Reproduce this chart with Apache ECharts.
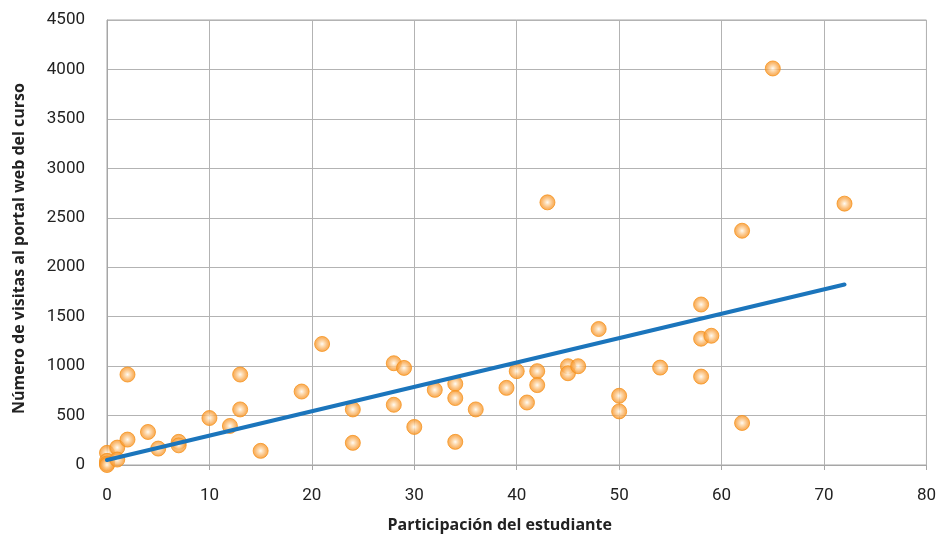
<!DOCTYPE html>
<html>
<head>
<meta charset="utf-8">
<script src="https://cdn.jsdelivr.net/npm/echarts@6/dist/echarts.min.js"></script>
<style>
html,body{margin:0;padding:0;background:#fff;}
#chart{width:939px;height:538px;}
</style>
</head>
<body>
<div id="chart"></div>
<script>
// Participación del estudiante (x) vs número de visitas (y)
const participacion = [0, 0, 0, 0, 1, 1, 2, 2, 4, 5, 7, 7, 10, 12, 13, 13, 15,
  19, 21, 24, 24, 28, 28, 29, 30, 32, 34, 34, 34, 36,
  39, 40, 41, 42, 42, 43, 45, 45, 46, 48, 50, 50, 54,
  58, 58, 58, 59, 62, 62, 65, 72];
const visitas = [123, 42, 15, 0, 176, 55, 257, 915, 334, 166, 234, 199, 475, 395, 562, 915, 143,
  743, 1224, 562, 224, 1029, 609, 982, 385, 760, 821, 677, 234, 562,
  780, 949, 632, 949, 808, 2656, 999, 928, 999, 1375, 700, 542, 985,
  1623, 1277, 894, 1307, 2369, 425, 4010, 2643];
const trendX = [0, 72];
const trendY = [50, 1825];
const xTicks = [0, 10, 20, 30, 40, 50, 60, 70, 80];
const yTicks = [0, 500, 1000, 1500, 2000, 2500, 3000, 3500, 4000, 4500];

const points = participacion.map((x, i) => [x, visitas[i]]);
const trend = trendX.map((x, i) => [x, trendY[i]]);

const font = 'Roboto, "Open Sans", sans-serif';
const titleFont = '"Open Sans", "Noto Sans", sans-serif';
const chart = echarts.init(document.getElementById('chart'));
chart.setOption({
  animation: false,
  backgroundColor: '#ffffff',
  grid: { left: 107, top: 20, right: 9, bottom: 72, show: true, borderColor: '#a6a6a6', borderWidth: 1 },
  xAxis: {
    type: 'value', min: xTicks[0], max: xTicks[xTicks.length - 1], interval: 10,
    name: 'Participación del estudiante', nameLocation: 'middle', nameGap: 52,
    nameTextStyle: { fontFamily: titleFont, fontSize: 16, fontWeight: 'bold', color: '#222', padding: [0, 34, 0, 0] },
    axisLine: { show: true, lineStyle: { color: '#a6a6a6', width: 1 } },
    axisTick: { show: true, length: 5, lineStyle: { color: '#a6a6a6' } },
    axisLabel: { fontFamily: font, fontSize: 17, color: '#222', margin: 22, formatter: v => String(v) },
    splitLine: { show: true, lineStyle: { color: '#b3b3b3', width: 1 } }
  },
  yAxis: {
    type: 'value', min: yTicks[0], max: yTicks[yTicks.length - 1], interval: 500,
    name: 'Número de visitas al portal web del curso', nameLocation: 'middle', nameGap: 80,
    nameTextStyle: { fontFamily: titleFont, fontSize: 16, fontWeight: 'bold', color: '#222', padding: [0, 12, 0, 0] },
    axisLine: { show: true, lineStyle: { color: '#a6a6a6', width: 1 } },
    axisTick: { show: false },
    axisLabel: { fontFamily: font, fontSize: 17, color: '#222', margin: 22, formatter: v => String(v) },
    splitLine: { show: true, lineStyle: { color: '#b3b3b3', width: 1 } }
  },
  series: [
    {
      type: 'scatter', data: points, symbol: 'circle', symbolSize: 15, z: 2,
      itemStyle: {
        color: {
          type: 'radial', x: 0.5, y: 0.5, r: 0.5,
          colorStops: [
            { offset: 0, color: '#fffaf2' },
            { offset: 0.3, color: '#fdd5a3' },
            { offset: 0.7, color: '#f9a84e' },
            { offset: 1, color: '#f7941d' }
          ]
        },
        borderColor: '#f6921e', borderWidth: 1
      }
    },
    {
      type: 'line', data: trend, symbol: 'none', z: 3,
      lineStyle: { color: '#1b75bc', width: 4, cap: 'round' }
    }
  ]
});
</script>
</body>
</html>
